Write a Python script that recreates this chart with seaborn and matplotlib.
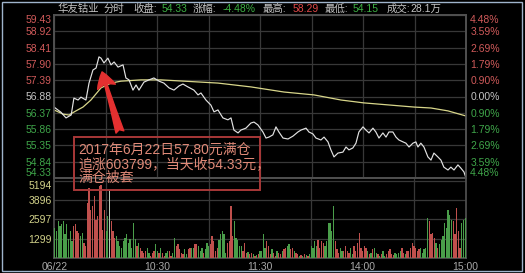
import matplotlib
matplotlib.use('Agg')
import matplotlib.pyplot as plt
import seaborn as sns
import pandas as pd
from matplotlib.patches import Rectangle

# ---------------- data ----------------
prev_close = 56.88
price_ticks = [54.33, 54.84, 55.35, 55.86, 56.37, 56.88, 57.39, 57.90, 58.41, 58.92, 59.43]
pct_labels = ['4.48%', '3.59%', '2.69%', '1.79%', '0.90%', '0.00%',
              '0.90%', '1.79%', '2.69%', '3.59%', '4.48%']
vol_ticks = [1299, 2597, 3896, 5194]
time_labels = ['06/22', '10:30', '11:30', '14:00', '15:00']
time_pos = [0, 60, 120, 180, 240]

price_min = [0, 4, 7, 10, 11.6, 14, 15.7, 18.6, 20.4, 22.7,
             24.5, 26.2, 27.4, 29.1, 31.4, 33.2, 35, 37.3, 40.2, 41.9,
             43.7, 46, 47.8, 49.5, 52.4, 55.3, 58.2, 61.2, 64, 67,
             69.9, 72.8, 75.1, 78, 81.5, 83.9, 85.6, 88.5, 91.4, 93.2,
             95.5, 98.4, 101.3, 103.1, 104.8, 107.2, 108.9, 111.8, 114.7, 116.5,
             118.8, 121.7, 123.5, 125.2, 127.5, 129.3, 131, 133.4, 136.3, 139.2,
             142.1, 143.9, 146.8, 148.5, 150.8, 152.6, 155.5, 157.3, 159.6, 161.3,
             163.1, 165.4, 168.3, 170.1, 171.8, 174.1, 175.9, 177.6, 180, 181.7,
             183.5, 185.8, 187.5, 189.3, 191.6, 193.4, 195.1, 197.4, 199.2, 200.9,
             203.3, 205, 206.8, 209.1, 210.8, 212, 213.7, 215.5, 217.8, 219.6,
             221.3, 223.6, 225.4, 227.1, 229.5, 231.2, 233, 235.3, 237, 238.8,
             240]
price_val = [56.55, 56.39, 56.21, 56.30, 56.83, 56.77, 56.86, 56.77, 57.30, 57.71,
             57.77, 58.12, 58.08, 57.93, 58.08, 57.87, 57.96, 57.80, 57.87, 57.46,
             57.40, 57.08, 57.24, 57.08, 57.33, 57.40, 57.46, 57.36, 57.30, 57.15,
             57.08, 57.21, 57.27, 57.18, 57.08, 56.93, 56.99, 56.77, 56.61, 56.40,
             56.46, 56.21, 56.15, 56.21, 55.83, 55.74, 55.83, 55.89, 56.05, 56.08,
             55.99, 55.77, 55.58, 55.61, 55.68, 55.93, 55.77, 55.58, 55.55, 55.64,
             55.77, 55.83, 55.89, 55.77, 55.71, 55.58, 55.52, 55.61, 55.46, 55.21,
             54.99, 55.11, 55.14, 55.30, 55.21, 55.27, 55.42, 55.77, 55.93, 55.83,
             55.74, 55.89, 55.77, 55.58, 55.74, 55.61, 55.77, 55.77, 55.61, 55.52,
             55.46, 55.42, 55.30, 55.42, 55.46, 55.30, 55.42, 55.30, 54.99, 54.89,
             55.11, 54.99, 54.89, 54.67, 54.58, 54.67, 54.58, 54.74, 54.64, 54.52,
             54.33]

avg_min = [0, 5.2, 8.7, 12.8, 16.9, 21.5, 27.4, 33.2, 39, 50.7, 62.3, 75.7,
           95.5, 114.7, 134, 151.4, 161.3, 167.2, 180.5, 209.7, 219.6, 229.5, 240]
avg_val = [56.46, 56.33, 56.30, 56.43, 56.55, 56.77, 57.15, 57.30, 57.36, 57.40, 57.40, 57.36,
           57.30, 57.18, 57.02, 56.93, 56.83, 56.77, 56.68, 56.55, 56.52, 56.43, 56.27]

volume = [2000, 1800, 2460, 2130, 2300, 2460, 1576, 2300, 1243, 1800,
          1130, 2130, 2300, 1800, 1690, 1465, 1690, 1020, 800, 3685,
          4684, 3240, 3460, 4130, 2580, 2800, 4800, 4906, 1910, 3240,
          1800, 2800, 4570, 2460, 1800, 1354, 1465, 1130, 800, 690,
          1130, 1354, 1576, 1020, 1243, 690, 2350, 1243, 800, 1020,
          690, 466, 355, 466, 690, 355, 133, 355, 466, 910,
          466, 355, 690, 355, 133, 355, 466, 466, 133, 355,
          1354, 800, 910, 577, 355, 244, 577, 244, 577, 690,
          690, 690, 910, 910, 800, 466, 690, 355, 577, 1020,
          800, 910, 1465, 1130, 466, 690, 1240, 1576, 1800, 1576,
          355, 1020, 1130, 3460, 1465, 2460, 1354, 1240, 800, 800,
          466, 1020, 355, 400, 244, 355, 244, 133, 180, 244,
          466, 466, 1620, 690, 1130, 800, 244, 577, 355, 133,
          466, 355, 244, 466, 577, 690, 800, 910, 577, 690,
          466, 355, 244, 133, 180, 133, 244, 180, 133, 244,
          800, 690, 1130, 800, 1240, 690, 1130, 1020, 800, 1130,
          2350, 2350, 1800, 3460, 1130, 577, 355, 690, 466, 466,
          800, 466, 355, 690, 244, 800, 466, 1020, 1690, 690,
          466, 800, 690, 466, 244, 355, 577, 690, 355, 244,
          133, 244, 466, 133, 244, 466, 577, 244, 180, 355,
          244, 355, 466, 690, 355, 244, 466, 466, 690, 1020,
          800, 690, 466, 577, 690, 355, 577, 690, 2680, 2460,
          1576, 1690, 1354, 1020, 690, 910, 1240, 1465, 2350, 2020,
          3240, 2910, 2580, 2460, 1576, 3350, 1800, 690, 2350, 2580,
          2680]
vol_dir = ("gggggggggg" "grrrrggrrr" "rrrrrrrrrr" "ggwrrrgggg" "ggggggggrg"
           "rrrrggrrrg" "grgrrggrrg" "grrrrrggrr" "ggrrgggrgg" "grrrrrgggg"
           "grrrrggggg" "rrrgrrgrgr" "ggggrrrgrr" "grrgrrggrr" "grrgrgrgrg"
           "ggggrrrrgg" "ggggrrrggr" "rrrggrrrrr" "rrrgrgrggr" "grggrrrrrg"
           "gggrrgrrrr" "rrrrgggggr" "rrrgrggggg" "gggrrrrrgg" "g")

title_parts = [('华友钴业', 58, 'label'), ('分时', 104, 'label'),
               ('收盘:', 133, 'label'), ('54.33', 162, 'down'),
               ('涨幅:', 193, 'label'), ('-4.48%', 223, 'down'),
               ('最高:', 263, 'label'), ('58.29', 293, 'up'),
               ('最低:', 325, 'label'), ('54.15', 353, 'down'),
               ('成交:', 387, 'label'), ('28.1万', 410, 'label')]
note_lines = ['2017年6月22日57.80元满仓', '追涨603799，当天收54.33元，', '满仓被套']

# ---------------- style ----------------
RED = '#d05a5a'
GREEN = '#3fa64a'
GREY = '#c4c4c4'
GRID = '#383838'
SPINE = '#505050'
bar_colors = {'r': '#c0504d', 'g': '#4a9e4a', 'w': '#b8c8b8'}
text_colors = {'label': GREY, 'up': '#e04848', 'down': '#3cb043'}

sns.set_theme(style='dark', rc={'axes.facecolor': 'black', 'figure.facecolor': 'black',
                                'axes.edgecolor': SPINE, 'grid.color': GRID})
plt.rcParams['font.family'] = ['Liberation Sans', 'Noto Sans CJK SC', 'DejaVu Sans']

W, H = 525, 273
fig = plt.figure(figsize=(W / 100, H / 100), dpi=100, facecolor='black')


def rect(l, t, r, b):
    return [l / W, 1 - b / H, (r - l) / W, (b - t) / H]


ax = fig.add_axes(rect(54, 15, 466, 178))
axv = fig.add_axes(rect(54, 179, 466, 258))

price_df = pd.DataFrame({'minute': price_min, 'price': price_val})
avg_df = pd.DataFrame({'minute': avg_min, 'price': avg_val})
sns.lineplot(data=avg_df, x='minute', y='price', ax=ax, color='#d8d68a', lw=0.9, zorder=3)
sns.lineplot(data=price_df, x='minute', y='price', ax=ax, color='#e2e2e2', lw=0.85, zorder=4)

ax.set_xlim(0, 240)
ax.set_ylim(price_ticks[0], price_ticks[-1])
ax.set_xticks(range(0, 241, 30))
ax.set_xticklabels([])
ax.set_yticks(price_ticks)
ax.set_yticklabels([f'{v:.2f}' for v in price_ticks])
ax.tick_params(axis='both', length=0, pad=1.5, labelsize=7.5)
ax.set_xlabel('')
ax.set_ylabel('')
ax.grid(True, color=GRID, lw=0.9)
for lbl, v in zip(ax.get_yticklabels(), price_ticks):
    lbl.set_color(RED if v > prev_close + 1e-6 else (GREEN if v < prev_close - 1e-6 else GREY))
ax.get_yticklabels()[0].set_va('bottom')
ax.get_yticklabels()[-1].set_va('top')
for s in ax.spines.values():
    s.set_color(SPINE)

axr = ax.twinx()
axr.set_ylim(price_ticks[0], price_ticks[-1])
axr.set_yticks(price_ticks)
axr.set_yticklabels(pct_labels)
axr.tick_params(axis='y', length=0, pad=3, labelsize=7.5)
axr.grid(False)
for lbl, v in zip(axr.get_yticklabels(), price_ticks):
    lbl.set_color(RED if v > prev_close + 1e-6 else (GREEN if v < prev_close - 1e-6 else GREY))
axr.get_yticklabels()[0].set_va('bottom')
axr.get_yticklabels()[-1].set_va('top')
for s in axr.spines.values():
    s.set_color(SPINE)

# volume
minutes = list(range(len(volume)))
axv.bar(minutes, volume, width=0.75, color=[bar_colors[c] for c in vol_dir], linewidth=0, zorder=3)
axv.set_xlim(-0.5, 240.5)
axv.set_ylim(0, vol_ticks[-1] * 1.02)
axv.set_yticks(vol_ticks)
axv.set_yticklabels([str(v) for v in vol_ticks])
axv.get_yticklabels()[-1].set_va('top')
axv.tick_params(axis='y', length=0, pad=1.5, labelsize=7.5, labelcolor='#d2d28a')
axv.set_xticks(time_pos)
axv.set_xticklabels(time_labels)
axv.tick_params(axis='x', length=0, pad=3, labelsize=7.5, labelcolor='#a8a8a8')
axv.set_xticks(range(0, 241, 30), minor=True)
axv.grid(False)
axv.grid(True, axis='y', which='major', color=GRID, lw=0.9)
axv.grid(True, axis='x', which='minor', color=GRID, lw=0.9)
axv.spines['top'].set_visible(False)
for s in axv.spines.values():
    s.set_color(SPINE)

# title line
for txt, x, kind in title_parts:
    fig.text(x / W, 1 - 8.5 / H, txt, color=text_colors[kind], fontsize=7.5,
             ha='left', va='center')

# annotation box + text
fig.patches.append(Rectangle((74 / W, 1 - 190 / H), (260 - 74) / W, (190 - 137) / H,
                             transform=fig.transFigure, fill=False,
                             edgecolor='#a83838', lw=1.4, zorder=10))
for i, line in enumerate(note_lines):
    fig.text(78 / W, 1 - (150 + 14 * i) / H, line, color='#e08a78', fontsize=10,
             ha='left', va='center', zorder=11)

# arrow to the peak
peak_i = price_val.index(max(price_val))
ax.annotate('', xy=(price_min[peak_i] + 1.8, price_val[peak_i] - 0.47),
            xytext=(price_min[peak_i] + 12.2, 55.77),
            arrowprops=dict(arrowstyle='fancy,head_length=0.8,head_width=0.95,tail_width=0.42',
                            color='#e43030', mutation_scale=14, shrinkA=0, shrinkB=0),
            zorder=12)

# outer frame
fig.patches.append(Rectangle((2 / W, 2 / H), (W - 5) / W, (H - 4) / H,
                             transform=fig.transFigure, fill=False,
                             edgecolor='#9fb4cc', lw=1.0))

fig.savefig('out.png', dpi=100, facecolor='black')
